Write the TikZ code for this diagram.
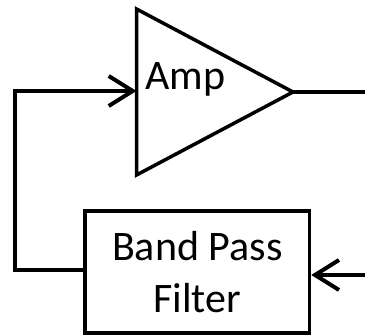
\documentclass[tikz,border=0pt]{standalone}
\usepackage{fontspec}
\setmainfont{Carlito}
\usetikzlibrary{arrows.meta}
\begin{document}
\begin{tikzpicture}[x=1pt,y=1pt,
  shapeline/.style={line width=3.5pt, line join=miter},
  conn/.style={line width=4pt},
  barb/.style={-{Straight Barb[length=24pt,width=30pt,line width=4pt]}},
  lbl/.style={font=\fontsize{42}{52}\selectfont, inner sep=0pt}]
\useasboundingbox (0,0) rectangle (365,335);
% amplifier triangle
\coordinate (ampL) at (136.5,243);
\coordinate (ampT) at (136.5,326);
\coordinate (ampB) at (136.5,160);
\coordinate (ampO) at (293,243);
\draw[shapeline] (ampT) -- (ampO) -- (ampB) -- cycle;
\node[lbl, anchor=base west] (amp) at (145,245) {Amp};
% filter box
\node[draw, shapeline, minimum width=224.5pt, minimum height=122pt, align=center, lbl]
  (bpf) at (197.25,63) {Band Pass\\Filter};
% connectors
\coordinate (out) at (365,243);
\coordinate (in) at (365,60);
\coordinate (cornerTop) at (15,244);
\coordinate (cornerBot) at (15,65);
\draw[conn] (ampO) -- (out);
\draw[conn, barb] (in) -- (bpf.east |- in);
\draw[conn, barb, line join=miter] (bpf.west |- cornerBot) -- (cornerBot) -- (cornerTop) -- (ampL |- cornerTop);
\end{tikzpicture}
\end{document}
